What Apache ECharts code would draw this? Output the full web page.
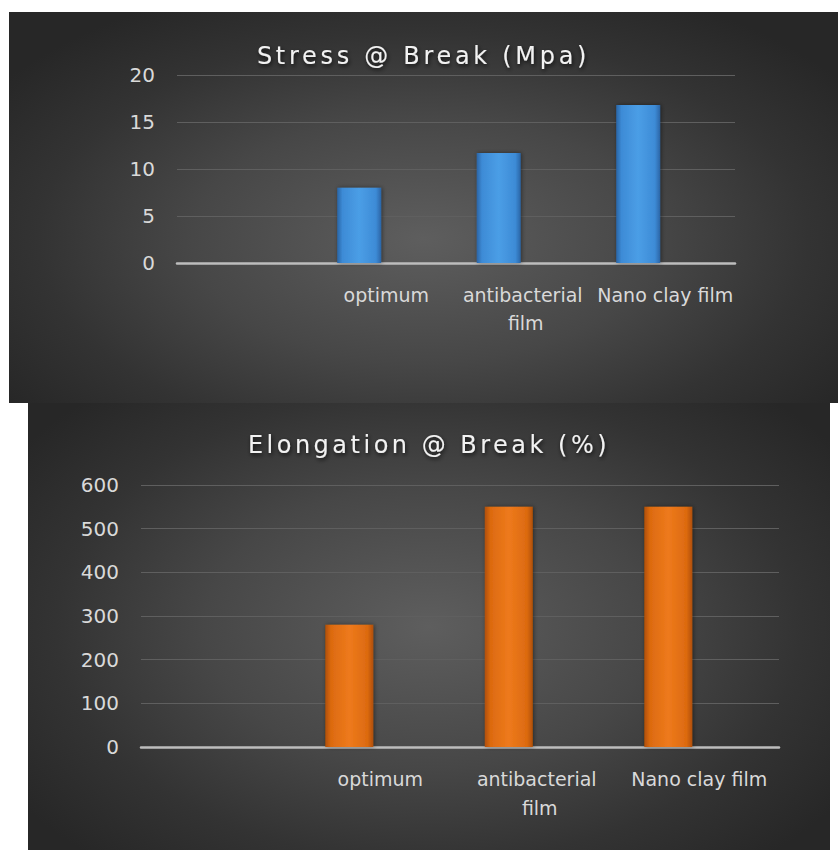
<!DOCTYPE html>
<html>
<head>
<meta charset="utf-8">
<script src="https://cdn.jsdelivr.net/npm/echarts@6/dist/echarts.min.js"></script>
<style>
  html, body { margin: 0; padding: 0; background: #ffffff; width: 838px; height: 850px; overflow: hidden; }
  .panel { position: absolute; }
  #c1 { left: 9px; top: 12px; width: 829px; height: 391px;
        background: radial-gradient(ellipse 62% 70% at 50% 58%, #5e5e5e 0%, #474747 45%, #333333 75%, #272727 100%); }
  #c2 { left: 28px; top: 403px; width: 802px; height: 447px;
        background: radial-gradient(ellipse 62% 70% at 50% 50%, #5e5e5e 0%, #474747 45%, #333333 75%, #272727 100%); }
</style>
</head>
<body>
<div id="c1" class="panel"></div>
<div id="c2" class="panel"></div>
<script>
// ---- data ----
const categories = ['', 'optimum', 'antibacterial film', 'Nano clay film'];
const stressValues = [null, 8, 11.7, 16.8];
const elongationValues = [null, 280, 550, 550];
const emptySeries = [null, null, null, null];
const stressTitle = 'Stress @ Break (Mpa)';
const elongationTitle = 'Elongation @ Break (%)';
const stressTicks = { min: 0, max: 20, interval: 5 };
const elongationTicks = { min: 0, max: 600, interval: 100 };

const FONT = 'DejaVu Sans';

function barGradient(edge, mid, light) {
  return new echarts.graphic.LinearGradient(0, 0, 1, 0, [
    { offset: 0, color: edge },
    { offset: 0.12, color: mid },
    { offset: 0.5, color: light },
    { offset: 0.88, color: mid },
    { offset: 1, color: edge }
  ]);
}

function makeOption(cfg) {
  return {
    animation: false,
    backgroundColor: 'transparent',
    title: {
      text: cfg.title,
      left: 'center',
      top: cfg.titleTop,
      textStyle: {
        fontFamily: FONT, fontSize: 24, fontWeight: 'normal', color: '#f2f2f2',
        textShadowColor: 'rgba(0,0,0,0.75)', textShadowBlur: 4,
        textShadowOffsetX: 1, textShadowOffsetY: 2
      }
    },
    grid: cfg.grid,
    xAxis: {
      type: 'category',
      data: categories,
      axisTick: { show: false },
      axisLine: { show: true, lineStyle: { color: '#bdbdbd', width: 2.5 } },
      axisLabel: {
        interval: 0, color: '#d9d9d9', fontFamily: FONT, fontSize: 19,
        margin: cfg.labelMargin, lineHeight: cfg.labelLineHeight,
        width: cfg.labelWidth, overflow: 'break'
      }
    },
    yAxis: {
      type: 'value',
      min: cfg.ticks.min, max: cfg.ticks.max, interval: cfg.ticks.interval,
      axisLine: { show: false },
      axisTick: { show: false },
      splitLine: { lineStyle: { color: '#5f5f5f', width: 1 } },
      axisLabel: { color: '#d9d9d9', fontFamily: FONT, fontSize: 20, margin: 22 }
    },
    series: [
      {
        name: cfg.title,
        type: 'bar',
        data: cfg.values,
        barWidth: cfg.barWidth,
        barGap: cfg.barGap,
        itemStyle: {
          color: cfg.color,
          shadowColor: 'rgba(0,0,0,0.45)', shadowBlur: 4, shadowOffsetX: 1
        }
      },
      {
        name: 'Series 2',
        type: 'bar',
        data: emptySeries,
        barWidth: cfg.barWidth,
        barGap: cfg.barGap
      }
    ]
  };
}

function spaceTitle(chart, text, spacing) {
  const fix = () => {
    const els = chart.getDom().querySelectorAll('text, tspan');
    els.forEach(el => {
      if (el.textContent === text) {
        el.style.letterSpacing = spacing;
      }
    });
  };
  fix();
  chart.on('finished', fix);
  setTimeout(fix, 50);
}

const c1 = echarts.init(document.getElementById('c1'), null, { renderer: 'svg' });
c1.setOption(makeOption({
  title: stressTitle,
  titleTop: 27,
  grid: { left: 168, right: 103, top: 63, bottom: 140, containLabel: false },
  ticks: stressTicks,
  values: stressValues,
  barWidth: 44,
  barGap: '23%',
  labelMargin: 18,
  labelLineHeight: 28,
  labelWidth: 140,
  color: barGradient('#2a65a6', '#3d8bd6', '#4b9ee6')
}));
spaceTitle(c1, stressTitle, '3.7px');

const c2 = echarts.init(document.getElementById('c2'), null, { renderer: 'svg' });
c2.setOption(makeOption({
  title: elongationTitle,
  titleTop: 25,
  grid: { left: 113, right: 51, top: 82, bottom: 103, containLabel: false },
  ticks: elongationTicks,
  values: elongationValues,
  barWidth: 48,
  barGap: '29%',
  labelMargin: 17,
  labelLineHeight: 29,
  labelWidth: 158,
  color: barGradient('#b04f06', '#dc6a10', '#ee7a1c')
}));
spaceTitle(c2, elongationTitle, '3.5px');
</script>
</body>
</html>
